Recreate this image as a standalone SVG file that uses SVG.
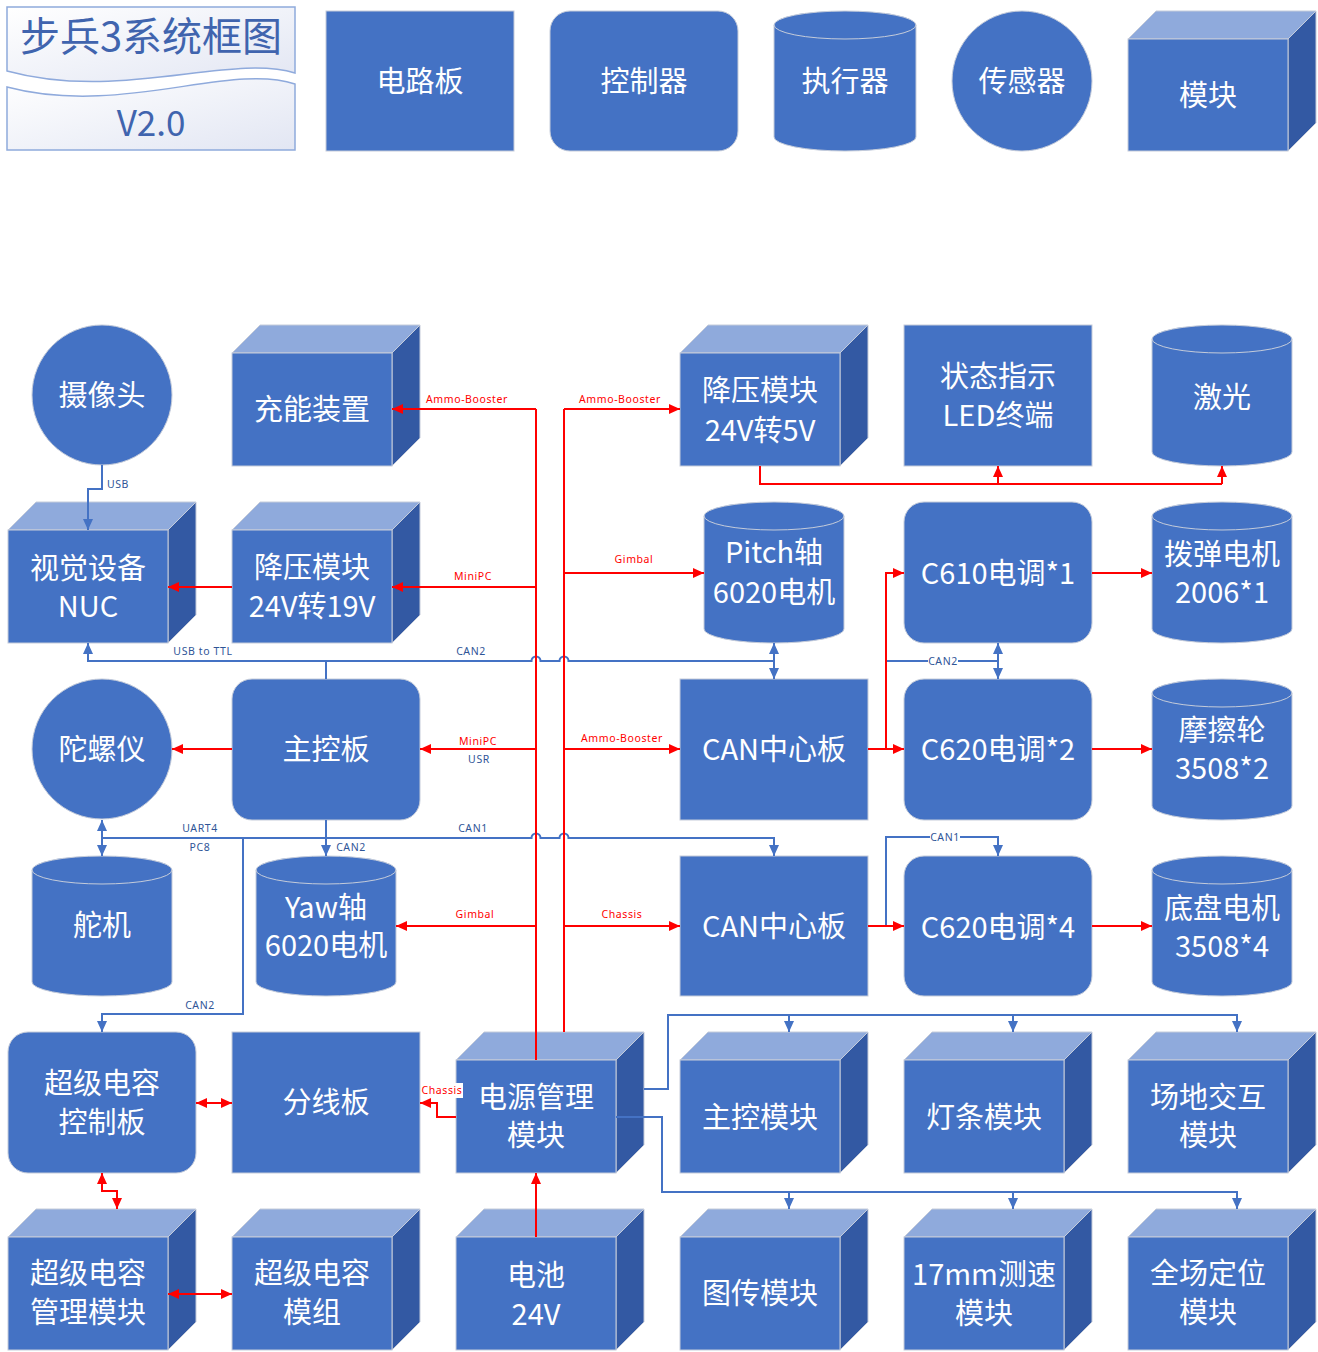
<svg xmlns="http://www.w3.org/2000/svg" width="1318" height="1352" viewBox="0 0 1318 1352">
<style>
.n{fill:#4472C4;stroke:#C5CCDA;stroke-width:1}
.tp{fill:#8FAADC;stroke:#C5CCDA;stroke-width:1}
.sd{fill:#3359A3;stroke:#C5CCDA;stroke-width:1}
.rim{fill:none;stroke:#C5CCDA;stroke-width:1}
.t{font-family:"Noto Sans CJK SC","Noto Sans",sans-serif;font-size:29px;fill:#FFFFFF;text-anchor:middle;dominant-baseline:central}
.r{stroke:#FF0000;stroke-width:2;fill:none}
.b{stroke:#4472C4;stroke-width:2;fill:none}
.ra{stroke:#FF0000;stroke-width:2;fill:none;marker-end:url(#ar)}
.rb{stroke:#FF0000;stroke-width:2;fill:none;marker-start:url(#ar);marker-end:url(#ar)}
.ba{stroke:#4472C4;stroke-width:2;fill:none;marker-end:url(#ab)}
.bb{stroke:#4472C4;stroke-width:2;fill:none;marker-start:url(#ab);marker-end:url(#ab)}
.lr{font-family:"Noto Sans","DejaVu Sans",sans-serif;font-size:10.5px;fill:#FF0000;text-anchor:middle;dominant-baseline:central;letter-spacing:0.6px}
.lb{font-family:"Noto Sans","DejaVu Sans",sans-serif;font-size:10.5px;fill:#2F5597;text-anchor:middle;dominant-baseline:central;letter-spacing:0.6px}
.ttl{font-family:"Noto Sans CJK SC","Noto Sans",sans-serif;fill:#4064AE;text-anchor:middle;dominant-baseline:central}
</style>
<defs>
<linearGradient id="g" x1="0" y1="0" x2="1" y2="1">
<stop offset="0" stop-color="#FFFFFF"/>
<stop offset="1" stop-color="#E2E6F3"/>
</linearGradient>
<marker id="ar" markerUnits="userSpaceOnUse" markerWidth="12" markerHeight="12" viewBox="0 0 12 12" refX="11" refY="6" orient="auto-start-reverse">
<path d="M0,1 L11,6 L0,11 Z" fill="#FF0000"/>
</marker>
<marker id="ab" markerUnits="userSpaceOnUse" markerWidth="12" markerHeight="12" viewBox="0 0 12 12" refX="11" refY="6" orient="auto-start-reverse">
<path d="M0,1 L11,6 L0,11 Z" fill="#4472C4"/>
</marker>
</defs>
<rect width="1318" height="1352" fill="#FFFFFF"/>

<!-- Legend / title -->
<g id="title">
<path d="M7,7 H295 V73 C230,53 120,102 7,71 Z" fill="url(#g)" stroke="#8FAADC" stroke-width="1.5"/>
<path d="M7,87 C120,117 230,62 295,84 V150 H7 Z" fill="url(#g)" stroke="#8FAADC" stroke-width="1.5"/>
<text class="ttl" x="151" y="34" font-size="40">步兵3系统框图</text>
<text class="ttl" x="151" y="120" font-size="35">V2.0</text>
</g>
<g id="legend-board"><rect class="n" x="326" y="11" width="188" height="140"/><text class="t" x="420" y="79">电路板</text></g>
<g id="legend-controller"><rect class="n" x="550" y="11" width="188" height="140" rx="20"/><text class="t" x="644" y="79">控制器</text></g>
<g id="legend-actuator"><path class="n" d="M774,25 A71,14 0 0 1 916,25 V137 A71,14 0 0 1 774,137 Z"/><path class="rim" d="M774,25 A71,14 0 0 0 916,25"/><text class="t" x="845" y="79">执行器</text></g>
<g id="legend-sensor"><ellipse class="n" cx="1022" cy="81" rx="70" ry="70"/><text class="t" x="1022" y="79">传感器</text></g>
<g id="legend-module"><polygon class="tp" points="1128,39 1156,11 1316,11 1288,39"/><polygon class="sd" points="1288,39 1316,11 1316,123 1288,151"/><rect class="n" x="1128" y="39" width="160" height="112"/><text class="t" x="1208" y="93">模块</text></g>

<!-- Nodes -->
<g id="camera"><circle class="n" cx="102" cy="395" r="70"/><text class="t" x="102" y="393">摄像头</text></g>
<g id="charger"><polygon class="tp" points="232,353 260,325 420,325 392,353"/><polygon class="sd" points="392,353 420,325 420,438 392,466"/><rect class="n" x="232" y="353" width="160" height="113"/><text class="t" x="312" y="407">充能装置</text></g>
<g id="buck5v"><polygon class="tp" points="680,353 708,325 868,325 840,353"/><polygon class="sd" points="840,353 868,325 868,438 840,466"/><rect class="n" x="680" y="353" width="160" height="113"/><text class="t" x="760" y="388">降压模块</text><text class="t" x="760" y="428">24V转5V</text></g>
<g id="led"><rect class="n" x="904" y="325" width="188" height="141"/><text class="t" x="998" y="374">状态指示</text><text class="t" x="998" y="413">LED终端</text></g>
<g id="laser"><path class="n" d="M1152,339 A70,14 0 0 1 1292,339 V452 A70,14 0 0 1 1152,452 Z"/><path class="rim" d="M1152,339 A70,14 0 0 0 1292,339"/><text class="t" x="1222" y="395">激光</text></g>

<g id="nuc"><polygon class="tp" points="8,530 36,502 196,502 168,530"/><polygon class="sd" points="168,530 196,502 196,615 168,643"/><rect class="n" x="8" y="530" width="160" height="113"/><text class="t" x="88" y="566">视觉设备</text><text class="t" x="88" y="604">NUC</text></g>
<g id="buck19v"><polygon class="tp" points="232,530 260,502 420,502 392,530"/><polygon class="sd" points="392,530 420,502 420,615 392,643"/><rect class="n" x="232" y="530" width="160" height="113"/><text class="t" x="312" y="565">降压模块</text><text class="t" x="312" y="604">24V转19V</text></g>
<g id="pitch"><path class="n" d="M704,516 A70,14 0 0 1 844,516 V629 A70,14 0 0 1 704,629 Z"/><path class="rim" d="M704,516 A70,14 0 0 0 844,516"/><text class="t" x="774" y="550">Pitch轴</text><text class="t" x="774" y="590">6020电机</text></g>
<g id="c610"><rect class="n" x="904" y="502" width="188" height="141" rx="20"/><text class="t" x="998" y="571">C610电调*1</text></g>
<g id="m2006"><path class="n" d="M1152,516 A70,14 0 0 1 1292,516 V629 A70,14 0 0 1 1152,629 Z"/><path class="rim" d="M1152,516 A70,14 0 0 0 1292,516"/><text class="t" x="1222" y="552">拨弹电机</text><text class="t" x="1222" y="590">2006*1</text></g>

<g id="gyro"><circle class="n" cx="102" cy="749" r="70"/><text class="t" x="102" y="747">陀螺仪</text></g>
<g id="mainboard"><rect class="n" x="232" y="679" width="188" height="141" rx="20"/><text class="t" x="326" y="747">主控板</text></g>
<g id="canhub1"><rect class="n" x="680" y="679" width="188" height="141"/><text class="t" x="774" y="747">CAN中心板</text></g>
<g id="c620x2"><rect class="n" x="904" y="679" width="188" height="141" rx="20"/><text class="t" x="998" y="747">C620电调*2</text></g>
<g id="friction"><path class="n" d="M1152,693 A70,14 0 0 1 1292,693 V806 A70,14 0 0 1 1152,806 Z"/><path class="rim" d="M1152,693 A70,14 0 0 0 1292,693"/><text class="t" x="1222" y="728">摩擦轮</text><text class="t" x="1222" y="766">3508*2</text></g>

<g id="servo"><path class="n" d="M32,870 A70,14 0 0 1 172,870 V982 A70,14 0 0 1 32,982 Z"/><path class="rim" d="M32,870 A70,14 0 0 0 172,870"/><text class="t" x="102" y="923">舵机</text></g>
<g id="yaw"><path class="n" d="M256,870 A70,14 0 0 1 396,870 V982 A70,14 0 0 1 256,982 Z"/><path class="rim" d="M256,870 A70,14 0 0 0 396,870"/><text class="t" x="326" y="905">Yaw轴</text><text class="t" x="326" y="943">6020电机</text></g>
<g id="canhub2"><rect class="n" x="680" y="856" width="188" height="140"/><text class="t" x="774" y="924">CAN中心板</text></g>
<g id="c620x4"><rect class="n" x="904" y="856" width="188" height="140" rx="20"/><text class="t" x="998" y="925">C620电调*4</text></g>
<g id="chassis-motor"><path class="n" d="M1152,870 A70,14 0 0 1 1292,870 V982 A70,14 0 0 1 1152,982 Z"/><path class="rim" d="M1152,870 A70,14 0 0 0 1292,870"/><text class="t" x="1222" y="906">底盘电机</text><text class="t" x="1222" y="944">3508*4</text></g>

<g id="supercap-ctrl"><rect class="n" x="8" y="1032" width="188" height="141" rx="20"/><text class="t" x="102" y="1081">超级电容</text><text class="t" x="102" y="1120">控制板</text></g>
<g id="splitter"><rect class="n" x="232" y="1032" width="188" height="141"/><text class="t" x="326" y="1100">分线板</text></g>
<g id="pmm"><polygon class="tp" points="456,1060 484,1032 644,1032 616,1060"/><polygon class="sd" points="616,1060 644,1032 644,1145 616,1173"/><rect class="n" x="456" y="1060" width="160" height="113"/><text class="t" x="536" y="1095">电源管理</text><text class="t" x="536" y="1133">模块</text></g>
<g id="main-module"><polygon class="tp" points="680,1060 708,1032 868,1032 840,1060"/><polygon class="sd" points="840,1060 868,1032 868,1145 840,1173"/><rect class="n" x="680" y="1060" width="160" height="113"/><text class="t" x="760" y="1115">主控模块</text></g>
<g id="light-module"><polygon class="tp" points="904,1060 932,1032 1092,1032 1064,1060"/><polygon class="sd" points="1064,1060 1092,1032 1092,1145 1064,1173"/><rect class="n" x="904" y="1060" width="160" height="113"/><text class="t" x="984" y="1115">灯条模块</text></g>
<g id="field-module"><polygon class="tp" points="1128,1060 1156,1032 1316,1032 1288,1060"/><polygon class="sd" points="1288,1060 1316,1032 1316,1145 1288,1173"/><rect class="n" x="1128" y="1060" width="160" height="113"/><text class="t" x="1208" y="1095">场地交互</text><text class="t" x="1208" y="1133">模块</text></g>

<g id="supercap-mgr"><polygon class="tp" points="8,1237 36,1209 196,1209 168,1237"/><polygon class="sd" points="168,1237 196,1209 196,1322 168,1350"/><rect class="n" x="8" y="1237" width="160" height="113"/><text class="t" x="88" y="1271">超级电容</text><text class="t" x="88" y="1310">管理模块</text></g>
<g id="supercap-pack"><polygon class="tp" points="232,1237 260,1209 420,1209 392,1237"/><polygon class="sd" points="392,1237 420,1209 420,1322 392,1350"/><rect class="n" x="232" y="1237" width="160" height="113"/><text class="t" x="312" y="1271">超级电容</text><text class="t" x="312" y="1310">模组</text></g>
<g id="battery"><polygon class="tp" points="456,1237 484,1209 644,1209 616,1237"/><polygon class="sd" points="616,1237 644,1209 644,1322 616,1350"/><rect class="n" x="456" y="1237" width="160" height="113"/><text class="t" x="536" y="1273">电池</text><text class="t" x="536" y="1312">24V</text></g>
<g id="vtm"><polygon class="tp" points="680,1237 708,1209 868,1209 840,1237"/><polygon class="sd" points="840,1237 868,1209 868,1322 840,1350"/><rect class="n" x="680" y="1237" width="160" height="113"/><text class="t" x="760" y="1291">图传模块</text></g>
<g id="speed"><polygon class="tp" points="904,1237 932,1209 1092,1209 1064,1237"/><polygon class="sd" points="1064,1237 1092,1209 1092,1322 1064,1350"/><rect class="n" x="904" y="1237" width="160" height="113"/><text class="t" x="984" y="1272">17mm测速</text><text class="t" x="984" y="1311">模块</text></g>
<g id="uwb"><polygon class="tp" points="1128,1237 1156,1209 1316,1209 1288,1237"/><polygon class="sd" points="1288,1237 1316,1209 1316,1322 1288,1350"/><rect class="n" x="1128" y="1237" width="160" height="113"/><text class="t" x="1208" y="1271">全场定位</text><text class="t" x="1208" y="1310">模块</text></g>

<!-- Connectors -->
<g id="connectors">
<!-- blue -->
<path class="ba" d="M102,465 V489 H88 V530"/>
<path class="ba" d="M326,679 V661 H88 V643"/>
<path class="b" d="M326,661 H531.5 A4.5,4.5 0 0 1 540.5,661 H559.5 A4.5,4.5 0 0 1 568.5,661 H774"/>
<path class="bb" d="M774,643 V679"/>
<path class="b" d="M868,749 H886 V661 H998"/>
<path class="bb" d="M998,643 V679"/>
<path class="ba" d="M102,838 H531.5 A4.5,4.5 0 0 1 540.5,838 H559.5 A4.5,4.5 0 0 1 568.5,838 H774 V856"/>
<path class="bb" d="M102,820 V856"/>
<path class="ba" d="M326,820 V856"/>
<path class="ba" d="M243,838 V1014 H102 V1032"/>
<path class="ba" d="M886,926 V837 H998 V856"/>
<path class="ba" d="M644,1089 H668 V1015 H1237 V1032"/>
<path class="ba" d="M789,1015 V1032"/>
<path class="ba" d="M1013,1015 V1032"/>
<path class="ba" d="M616,1117 H662 V1192 H1237 V1209"/>
<path class="ba" d="M789,1192 V1209"/>
<path class="ba" d="M1013,1192 V1209"/>
<!-- red -->
<path class="r" d="M536,409 V1060"/>
<path class="r" d="M564,409 V1032"/>
<path class="ra" d="M536,409 H392"/>
<path class="ra" d="M536,587 H392"/>
<path class="ra" d="M536,749 H420"/>
<path class="ra" d="M536,926 H396"/>
<path class="ra" d="M564,409 H680"/>
<path class="ra" d="M564,573 H704"/>
<path class="ra" d="M564,749 H680"/>
<path class="ra" d="M564,926 H680"/>
<path class="ra" d="M232,587 H168"/>
<path class="ra" d="M232,749 H172"/>
<path class="r" d="M760,466 V484 H1222"/>
<path class="ra" d="M998,484 V466"/>
<path class="ra" d="M1222,484 V466"/>
<path class="ra" d="M868,749 H904"/>
<path class="ra" d="M886,749 V573 H904"/>
<path class="ra" d="M1092,573 H1152"/>
<path class="ra" d="M1092,749 H1152"/>
<path class="ra" d="M868,926 H904"/>
<path class="ra" d="M1092,926 H1152"/>
<path class="ra" d="M456,1117 H437 V1103 H420"/>
<path class="rb" d="M196,1103 H232"/>
<path class="rb" d="M102,1173 V1191 H117 V1209"/>
<path class="rb" d="M168,1294 H232"/>
<path class="ra" d="M536,1237 V1173"/>
<!-- labels -->
<text class="lb" x="118" y="484">USB</text>
<text class="lb" x="203" y="651">USB to TTL</text>
<text class="lb" x="471" y="651">CAN2</text>
<text class="lr" x="467" y="399">Ammo-Booster</text>
<text class="lr" x="620" y="399">Ammo-Booster</text>
<text class="lr" x="473" y="576">MiniPC</text>
<text class="lr" x="634" y="559">Gimbal</text>
<text class="lr" x="478" y="741">MiniPC</text>
<text class="lb" x="479" y="759">USR</text>
<text class="lr" x="622" y="738">Ammo-Booster</text>
<text class="lb" x="473" y="828">CAN1</text>
<text class="lb" x="200" y="828">UART4</text>
<text class="lb" x="200" y="847">PC8</text>
<text class="lb" x="351" y="847">CAN2</text>
<text class="lr" x="475" y="914">Gimbal</text>
<text class="lr" x="622" y="914">Chassis</text>
<text class="lb" x="200" y="1005">CAN2</text>
<rect x="928" y="654" width="30" height="14" fill="#FFFFFF"/>
<text class="lb" x="943" y="661">CAN2</text>
<rect x="930" y="830" width="30" height="14" fill="#FFFFFF"/>
<text class="lb" x="945" y="837">CAN1</text>
<rect x="421" y="1083" width="42" height="15" fill="#FFFFFF"/>
<text class="lr" x="442" y="1090" letter-spacing="0">Chassis</text>
</g>
</svg>
